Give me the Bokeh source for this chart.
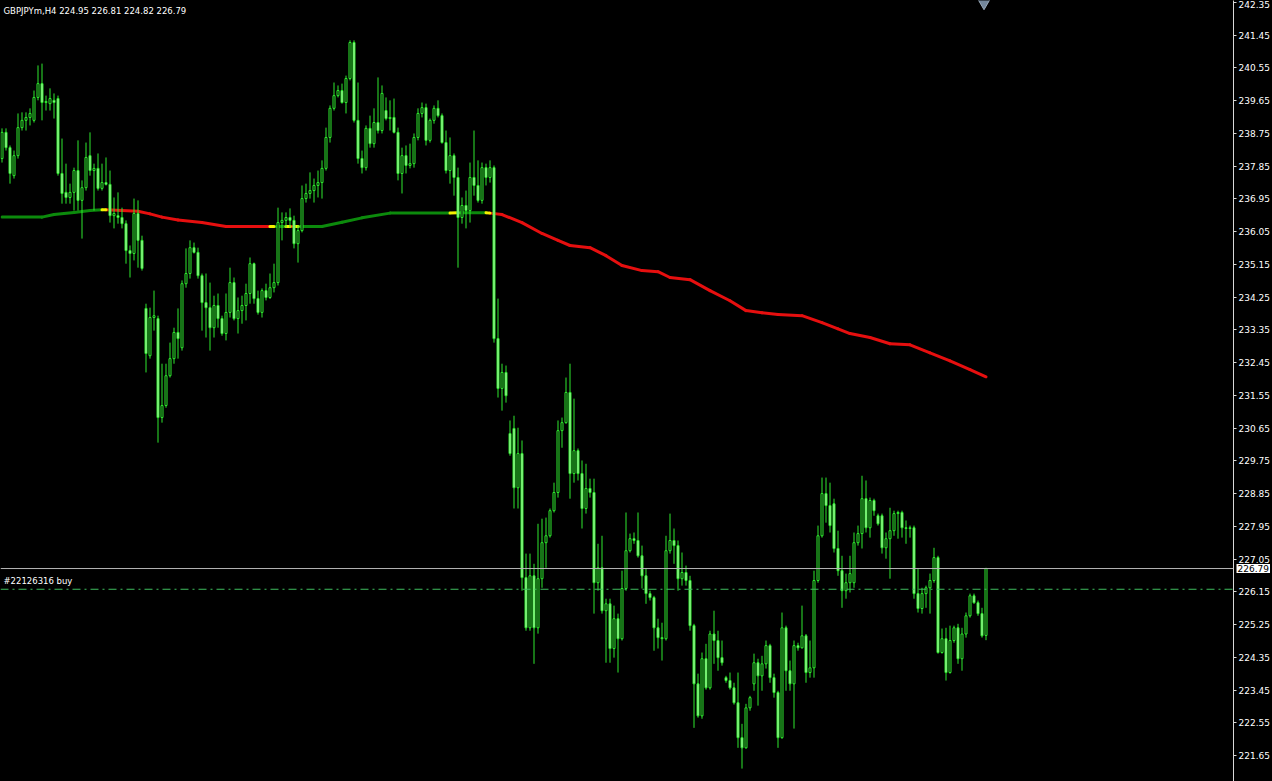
from bokeh.plotting import figure
from bokeh.models import Range1d, FixedTicker, NumeralTickFormatter, Span, Label
from bokeh.embed import file_html
from bokeh.resources import INLINE

symbol_title = "GBPJPYm,H4  224.95 226.81 224.82 226.79"
order_label = "#22126316 buy"
order_price = 226.22
last_price = 226.79

opens = [
    238.06, 238.78, 238.36, 237.59, 238.14, 238.91, 239.11, 239.19, 239.11, 239.74,
    240.12, 239.60, 239.57, 239.66, 239.71, 237.65, 237.13, 236.99, 237.13, 237.73,
    236.91, 237.26, 238.14, 237.73, 237.79, 237.24, 237.40, 237.35, 236.49, 236.49,
    236.44, 236.27, 235.53, 235.45, 236.55, 235.81, 233.94, 232.64, 233.69, 233.66,
    230.94, 231.27, 232.09, 232.56, 233.28, 232.86, 234.62, 234.90, 235.61, 235.48,
    234.84, 234.10, 233.96, 233.41, 234.02, 233.66, 233.25, 233.83, 234.65, 233.66,
    233.88, 234.02, 234.35, 235.17, 234.21, 233.83, 234.43, 234.24, 234.51, 234.65,
    236.30, 236.36, 236.44, 236.36, 235.72, 236.08, 236.96, 237.10, 237.18, 237.32,
    237.40, 237.79, 238.64, 239.44, 239.79, 239.93, 239.60, 240.26, 241.25, 239.11,
    238.06, 237.81, 238.89, 238.47, 239.05, 238.83, 239.38, 239.16, 239.19, 238.78,
    237.65, 238.14, 237.87, 237.92, 238.64, 239.30, 239.46, 238.56, 239.11, 239.44,
    239.24, 238.50, 237.73, 238.14, 237.54, 236.44, 236.77, 236.63, 237.54, 237.32,
    236.91, 237.81, 237.54, 237.81, 233.11, 231.74, 232.18, 230.50, 230.64, 229.01,
    229.95, 226.54, 225.16, 226.59, 225.16, 226.51, 227.50, 227.69, 228.38, 228.88,
    230.58, 230.80, 231.63, 229.40, 230.03, 229.40, 228.44, 228.99, 228.88, 226.40,
    226.81, 225.63, 225.82, 224.59, 225.41, 224.86, 226.24, 227.28, 227.61, 227.56,
    227.14, 226.59, 226.10, 225.99, 225.16, 224.89, 224.86, 227.28, 227.56, 227.42,
    226.51, 226.68, 226.46, 225.22, 223.62, 222.74, 224.31, 223.51, 224.99, 224.81,
    224.34, 223.79, 223.71, 223.51, 223.10, 222.14, 221.86, 222.96, 223.62, 224.20,
    223.84, 224.17, 224.67, 223.79, 223.38, 222.14, 225.16, 223.98, 223.62, 224.67,
    224.61, 224.94, 223.93, 224.06, 226.46, 227.69, 228.85, 228.52, 228.57, 227.34,
    226.73, 226.18, 226.40, 226.40, 227.50, 227.75, 228.71, 227.91, 228.66, 228.24,
    228.24, 227.36, 227.61, 227.83, 228.30, 228.33, 227.91, 227.89, 227.91, 226.10,
    225.69, 226.10, 226.26, 226.46, 227.09, 224.48, 224.86, 223.93, 224.81, 225.16,
    224.31, 224.99, 225.49, 226.04, 225.85, 225.55, 224.95,
]
highs = [
    238.89, 238.89, 238.42, 238.28, 239.30, 239.33, 239.33, 239.44, 239.93, 240.62,
    240.67, 239.79, 239.99, 239.85, 239.79, 238.61, 237.92, 237.37, 237.81, 238.56,
    237.46, 238.50, 238.78, 237.92, 238.20, 237.92, 238.09, 237.73, 236.99, 237.13,
    236.71, 236.36, 235.67, 236.96, 236.91, 235.94, 234.07, 233.96, 234.43, 233.74,
    232.42, 232.42, 233.00, 233.41, 233.94, 234.71, 235.59, 235.81, 235.75, 235.61,
    234.90, 234.90, 234.65, 234.29, 234.35, 233.74, 234.35, 235.06, 234.79, 234.24,
    234.29, 234.62, 235.34, 235.20, 234.43, 234.49, 234.62, 234.90, 235.17, 236.71,
    236.58, 236.58, 236.69, 236.49, 236.22, 237.32, 237.37, 237.68, 237.51, 237.73,
    238.01, 238.91, 239.52, 240.15, 240.07, 240.12, 240.34, 241.31, 241.31, 240.15,
    238.28, 238.97, 239.24, 239.44, 240.29, 240.07, 239.74, 239.66, 239.71, 238.91,
    238.36, 238.42, 238.47, 238.75, 239.44, 239.60, 239.57, 239.16, 239.52, 239.66,
    239.30, 238.83, 238.64, 238.20, 237.81, 236.99, 237.18, 237.95, 238.83, 238.01,
    237.95, 237.92, 238.01, 237.87, 234.21, 232.42, 232.37, 230.86, 230.99, 230.66,
    230.31, 227.20, 227.20, 226.92, 228.02, 228.16, 228.19, 228.44, 229.15, 230.86,
    230.94, 232.04, 232.42, 231.46, 230.09, 229.76, 229.67, 229.26, 229.26, 227.47,
    227.69, 225.96, 225.96, 225.77, 225.55, 226.73, 228.33, 227.75, 227.78, 228.33,
    227.42, 226.79, 226.18, 226.04, 225.41, 225.30, 227.69, 228.30, 227.89, 227.56,
    227.23, 226.87, 226.59, 225.27, 223.90, 224.48, 224.72, 225.08, 225.63, 225.08,
    224.81, 223.84, 223.93, 223.65, 223.93, 222.52, 223.07, 223.29, 224.45, 224.31,
    224.39, 224.81, 224.72, 223.90, 223.43, 225.58, 225.22, 224.26, 224.81, 224.75,
    225.77, 224.99, 224.81, 226.73, 227.97, 229.29, 229.29, 229.15, 228.71, 227.83,
    227.14, 226.65, 227.14, 227.78, 227.97, 229.34, 229.21, 228.74, 228.71, 228.30,
    228.30, 227.78, 228.46, 228.38, 228.38, 228.38, 228.11, 227.97, 227.97, 226.79,
    226.26, 226.32, 226.65, 227.36, 227.14, 225.14, 225.16, 225.22, 225.22, 225.27,
    225.16, 225.58, 226.10, 226.10, 225.91, 225.71, 226.81,
]
lows = [
    237.95, 238.28, 237.37, 237.51, 238.06, 238.83, 238.83, 238.97, 239.05, 239.66,
    239.11, 239.38, 239.38, 239.16, 237.59, 236.82, 236.82, 236.82, 236.63, 236.63,
    235.86, 237.18, 237.59, 236.63, 237.18, 237.18, 237.32, 236.30, 236.14, 236.27,
    236.14, 235.17, 234.79, 235.26, 235.06, 234.98, 232.18, 232.56, 233.33, 230.25,
    230.80, 231.21, 232.04, 232.42, 232.56, 232.78, 234.51, 234.76, 235.45, 234.76,
    233.33, 233.14, 232.78, 233.14, 233.41, 233.19, 233.06, 233.69, 233.61, 233.25,
    233.52, 233.61, 234.07, 234.07, 233.77, 233.69, 234.16, 234.20, 234.38, 234.57,
    235.81, 236.16, 236.16, 235.59, 235.20, 236.03, 236.85, 236.96, 236.85, 236.99,
    236.96, 237.73, 238.50, 239.38, 239.74, 239.57, 239.30, 240.21, 239.05, 237.92,
    237.65, 237.73, 238.36, 238.36, 238.75, 238.75, 239.11, 238.83, 238.75, 237.46,
    237.10, 237.65, 237.79, 237.81, 238.56, 239.19, 238.42, 238.50, 239.02, 239.19,
    238.47, 237.65, 237.37, 237.04, 235.06, 236.27, 236.14, 236.30, 237.04, 236.85,
    236.82, 237.32, 237.40, 233.00, 231.49, 231.13, 231.35, 229.89, 228.44, 228.44,
    226.18, 225.08, 225.08, 224.17, 225.00, 226.26, 226.81, 227.64, 228.33, 228.74,
    230.11, 230.77, 228.71, 229.15, 229.21, 227.89, 228.30, 228.74, 225.55, 226.18,
    225.55, 224.20, 224.20, 224.34, 223.93, 224.81, 226.18, 227.23, 227.47, 227.09,
    226.24, 225.82, 225.91, 224.53, 224.59, 224.26, 224.81, 227.20, 226.92, 226.18,
    226.32, 226.32, 225.08, 222.41, 222.69, 222.66, 223.46, 223.46, 224.17, 223.98,
    224.12, 223.65, 223.46, 223.05, 221.86, 221.29, 221.84, 222.88, 223.43, 223.02,
    223.43, 224.04, 223.65, 223.24, 221.86, 222.11, 223.43, 223.43, 222.39, 224.53,
    224.59, 223.65, 223.79, 223.79, 226.40, 227.64, 228.05, 227.78, 227.23, 226.59,
    225.71, 225.96, 226.13, 226.26, 227.42, 227.34, 227.78, 227.64, 228.24, 227.97,
    227.20, 227.06, 226.51, 227.69, 227.61, 227.64, 227.47, 227.64, 225.96, 225.58,
    225.55, 225.71, 225.55, 226.40, 224.45, 224.45, 223.71, 223.90, 224.75, 224.17,
    223.98, 224.89, 225.44, 225.82, 225.49, 224.89, 224.82,
]
closes = [
    238.78, 238.36, 237.65, 238.14, 238.91, 239.11, 239.19, 239.30, 239.74, 240.12,
    239.60, 239.63, 239.71, 239.60, 237.65, 237.10, 236.99, 237.13, 237.73, 236.91,
    237.26, 238.09, 237.73, 237.79, 237.24, 237.40, 237.35, 236.49, 236.55, 236.44,
    236.27, 235.53, 235.45, 236.55, 235.81, 235.04, 232.70, 233.69, 233.74, 230.94,
    231.27, 232.09, 232.56, 233.28, 233.11, 234.62, 234.90, 235.61, 235.48, 234.84,
    234.10, 233.96, 233.41, 234.02, 233.66, 233.25, 233.83, 234.65, 233.66, 233.88,
    234.02, 234.35, 235.17, 234.21, 233.83, 234.43, 234.24, 234.51, 234.65, 236.30,
    236.36, 236.44, 236.36, 235.72, 236.08, 236.96, 237.10, 237.18, 237.32, 237.40,
    237.79, 238.64, 239.44, 239.79, 239.93, 239.60, 240.26, 241.25, 239.11, 238.06,
    237.81, 238.89, 238.47, 239.05, 238.83, 239.85, 239.16, 239.19, 238.78, 237.65,
    238.14, 237.87, 237.92, 238.64, 239.30, 239.46, 238.56, 239.11, 239.44, 239.24,
    238.50, 237.73, 238.14, 237.54, 236.44, 236.77, 236.63, 237.54, 237.32, 236.91,
    237.81, 237.54, 237.81, 233.11, 231.74, 232.18, 231.54, 229.95, 229.01, 229.95,
    226.54, 225.16, 226.59, 225.16, 226.51, 227.50, 227.69, 228.38, 228.88, 230.58,
    230.80, 231.63, 229.40, 230.03, 229.40, 228.44, 228.99, 228.88, 226.40, 226.81,
    225.63, 225.82, 224.59, 225.41, 224.86, 226.24, 227.28, 227.61, 227.56, 227.14,
    226.59, 226.10, 225.99, 225.16, 224.89, 224.86, 227.28, 227.56, 227.42, 226.51,
    226.68, 226.46, 225.22, 223.62, 222.74, 224.31, 223.51, 224.99, 224.81, 224.34,
    224.20, 223.71, 223.51, 223.10, 222.14, 221.86, 222.96, 223.24, 224.20, 223.84,
    224.17, 224.67, 223.79, 223.38, 222.14, 225.16, 223.98, 223.62, 224.67, 224.61,
    224.94, 223.93, 224.06, 226.46, 227.69, 228.85, 228.52, 227.97, 227.34, 226.73,
    226.18, 226.40, 226.65, 227.50, 227.75, 228.71, 227.91, 228.66, 228.38, 228.02,
    227.36, 227.61, 227.83, 228.30, 228.33, 227.91, 227.89, 227.91, 226.10, 225.69,
    226.10, 226.26, 226.46, 227.09, 224.48, 224.86, 223.93, 224.81, 225.16, 224.31,
    224.99, 225.49, 226.04, 225.85, 225.55, 224.94, 226.79,
]

# moving average: bar index, value, and trend state of each segment
ma_index = [0, 10, 13, 18, 22, 25, 26, 34, 37, 40, 44, 50, 56, 67, 68, 71, 72, 73, 74,
            80, 85, 90, 97, 112, 114, 121, 122, 125, 130, 135, 139, 142, 147, 151, 155,
            160, 164, 167, 172, 177, 182, 186, 190, 194, 200, 205, 209, 212, 217, 222,
            227, 232, 237, 242, 246]
ma_value = [236.45, 236.45, 236.52, 236.58, 236.63, 236.65, 236.65, 236.61, 236.54, 236.45,
            236.37, 236.30, 236.19, 236.19, 236.19, 236.19, 236.19, 236.19, 236.19,
            236.19, 236.31, 236.43, 236.56, 236.56, 236.57, 236.57, 236.56, 236.52, 236.30,
            236.00, 235.81, 235.67, 235.61, 235.39, 235.12, 234.98, 234.95, 234.79, 234.73,
            234.43, 234.15, 233.88, 233.82, 233.77, 233.74, 233.55, 233.38, 233.25, 233.14,
            232.97, 232.94, 232.72, 232.50, 232.26, 232.06]
ma_state = (["up"] * 5 + ["turn"] + ["down"] * 7 + ["turn", "up", "turn", "down", "turn"]
            + ["up"] * 5 + ["turn", "up", "turn"] + ["down"] * 28)

axis_ticks = [242.35, 241.45, 240.55, 239.65, 238.75, 237.85, 236.95, 236.05, 235.15,
              234.25, 233.35, 232.45, 231.55, 230.65, 229.75, 228.85, 227.95, 227.05,
              226.15, 225.25, 224.35, 223.45, 222.55, 221.65]

BAR_COL = "#2ee82e"
BULL_FILL = "#000000"
BEAR_FILL = "#b9f7b0"
MA_COLORS = {"up": "#0c8a0c", "down": "#e60f0f", "turn": "#f5f000"}
FONT = "DejaVu Sans"

n = len(closes)
idx = list(range(n))
y_top, y_bot = 242.405, 220.935
x_start = -0.375
PX_PER_BAR = 4
FRAME_W = 1233

p = figure(frame_width=FRAME_W, frame_height=781, output_backend="svg", toolbar_location=None,
           x_range=Range1d(x_start, x_start + FRAME_W / PX_PER_BAR), y_range=Range1d(y_bot, y_top),
           x_axis_location=None, y_axis_location="right",
           min_border_left=0, min_border_right=0, min_border_top=0, min_border_bottom=0)
p.background_fill_color = "black"
p.border_fill_color = "black"
p.outline_line_color = None
p.grid.visible = False

ax = p.yaxis[0]
ax.ticker = FixedTicker(ticks=axis_ticks)
ax.formatter = NumeralTickFormatter(format="0.00")
ax.axis_line_color = "#d8d8d8"
ax.major_tick_line_color = "#d8d8d8"
ax.major_tick_out = 3
ax.major_tick_in = 0
ax.minor_tick_line_color = None
ax.major_label_text_color = "white"
ax.major_label_text_font = FONT
ax.major_label_text_font_size = "9px"
ax.major_label_standoff = 2

# moving average
nseg = len(ma_state)
for st in ("up", "down", "turn"):
    ks = [k for k in range(nseg) if ma_state[k] == st]
    p.segment([ma_index[k] for k in ks], [ma_value[k] for k in ks],
              [ma_index[k + 1] for k in ks], [ma_value[k + 1] for k in ks],
              line_color=MA_COLORS[st], line_width=3, line_cap="round")

# price and order lines
p.add_layout(Span(location=order_price, dimension="width", line_color="#3fbf5f",
                  line_width=1, line_dash="8 4 2 4"))
p.add_layout(Span(location=last_price, dimension="width", line_color="#b4b4b4", line_width=1))

# candles
p.segment(idx, highs, idx, lows, line_color=BAR_COL, line_width=1)
tops = [max(o, c) for o, c in zip(opens, closes)]
bots = [min(o, c) for o, c in zip(opens, closes)]
fills = [BULL_FILL if c > o else BEAR_FILL for o, c in zip(opens, closes)]
p.vbar(x=idx, top=tops, bottom=bots, width=0.5, fill_color=fills, line_color=BAR_COL, line_width=1)

# chart shift marker
p.scatter([idx[-1] - 0.5], [y_top], marker="inverted_triangle", size=16,
          fill_color="#73869b", line_color="#9aaabb")

p.add_layout(Label(x=3, y=776, x_units="screen", y_units="screen", text=symbol_title,
                   text_color="white", text_font=FONT, text_font_size="8.5px",
                   text_baseline="top"))
p.add_layout(Label(x=3, y=order_price, x_units="screen", y_offset=3, text=order_label,
                   text_color="white", text_font=FONT, text_font_size="8.5px",
                   text_baseline="bottom"))

# current price box on the price scale; placed in a side panel (beyond the visible
# window) so that it is painted without being clipped to the chart frame
price_box = Label(x=x_start + (FRAME_W + 3) / PX_PER_BAR, y=last_price,
                  text=f"{last_price:.2f}", text_color="black", text_font=FONT,
                  text_font_size="9px", text_baseline="middle", text_align="left",
                  background_fill_color="white", border_line_color=None, padding=1)
p.add_layout(price_box, "right")

html = file_html(p, INLINE, title="GBPJPYm,H4")
html = html.replace("<head>", "<head><style>html,body{margin:0;padding:0;background:#000;overflow:hidden;}</style>", 1)
open("out.html", "w").write(html)
